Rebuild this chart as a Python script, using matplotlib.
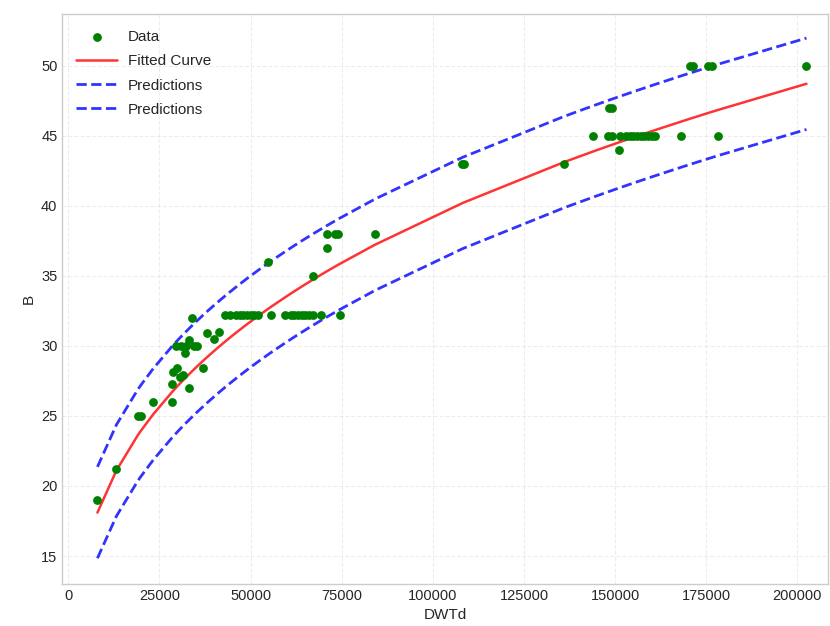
import numpy as np
import matplotlib
matplotlib.use("Agg")
import matplotlib.pyplot as plt

dwt = [8000, 13200, 19000, 20000, 23300, 28500, 28500, 28800, 29900, 30700,
       31500, 32000, 33200, 37000, 29500, 30800, 32200, 34600, 35300, 33200,
       38100, 40000, 41400, 34000,
       43000, 44500, 46000, 47000, 48000, 49000, 50000, 51000, 52000, 55700,
       59500, 61000, 62000, 63000, 64000, 65000, 66000, 67000, 69400, 74500,
       54900, 67200, 71000, 71000, 73200, 74000, 84200, 108000, 108500, 136000,
       148400, 149200, 144000, 148000, 149200, 151400, 153000, 154000, 155000,
       156000, 157000, 158000, 159000, 160000, 161000, 168200, 178300, 151000,
       170600, 171500, 175500, 176700, 202500]
beam = [19.0, 21.2, 25.0, 25.0, 26.0, 26.0, 27.3, 28.1, 28.4, 27.8,
        27.9, 29.5, 27.0, 28.4, 30.0, 30.0, 30.0, 30.0, 30.0, 30.4,
        30.9, 30.5, 31.0, 32.0,
        32.2, 32.2, 32.2, 32.2, 32.2, 32.2, 32.2, 32.2, 32.2, 32.2,
        32.2, 32.2, 32.2, 32.2, 32.2, 32.2, 32.2, 32.2, 32.2, 32.2,
        36.0, 35.0, 37.0, 38.0, 38.0, 38.0, 38.0, 43.0, 43.0, 43.0,
        47.0, 47.0, 45.0, 45.0, 45.0, 45.0, 45.0, 45.0, 45.0,
        45.0, 45.0, 45.0, 45.0, 45.0, 45.0, 45.0, 45.0, 44.0,
        50.0, 50.0, 50.0, 50.0, 50.0]

# power-law fit B = a * DWT^b and prediction band
fit_a = 1.154
fit_b = 0.3063
pred_offset = 3.26

plt.style.use("seaborn-v0_8-whitegrid")
plt.rcParams["font.family"] = ["Liberation Sans", "DejaVu Sans"]

fig, ax = plt.subplots(figsize=(8.3, 6.26), dpi=100)
fig.subplots_adjust(left=0.075, right=0.998, top=0.978, bottom=0.067)

x_sorted = np.sort(np.array(dwt, dtype=float))
fitted = fit_a * x_sorted ** fit_b

ax.scatter(dwt, beam, s=28, color="green", label="Data", zorder=3)
ax.plot(x_sorted, fitted, color="red", alpha=0.8, lw=1.8, label="Fitted Curve")
ax.plot(x_sorted, fitted + pred_offset, "--", color="blue", alpha=0.8, lw=2, label="Predictions")
ax.plot(x_sorted, fitted - pred_offset, "--", color="blue", alpha=0.8, lw=2, label="Predictions")

ax.set_xlim(-1650, 208500)
ax.set_ylim(13.0, 53.7)
ax.set_xticks(np.arange(0, 200001, 25000))
ax.set_yticks(np.arange(15, 51, 5))
ax.tick_params(labelsize=10.5, colors="0.15")
ax.grid(True, linestyle="--", alpha=0.35)
ax.set_xlabel("DWTd", fontsize=11)
ax.set_ylabel("B", fontsize=11)
ax.legend(loc="upper left", bbox_to_anchor=(0.0, 0.995), fontsize=11, frameon=False,
          handlelength=2.7, handletextpad=0.7, labelspacing=0.66, borderaxespad=0.5)

fig.savefig("out.png", dpi=100)
